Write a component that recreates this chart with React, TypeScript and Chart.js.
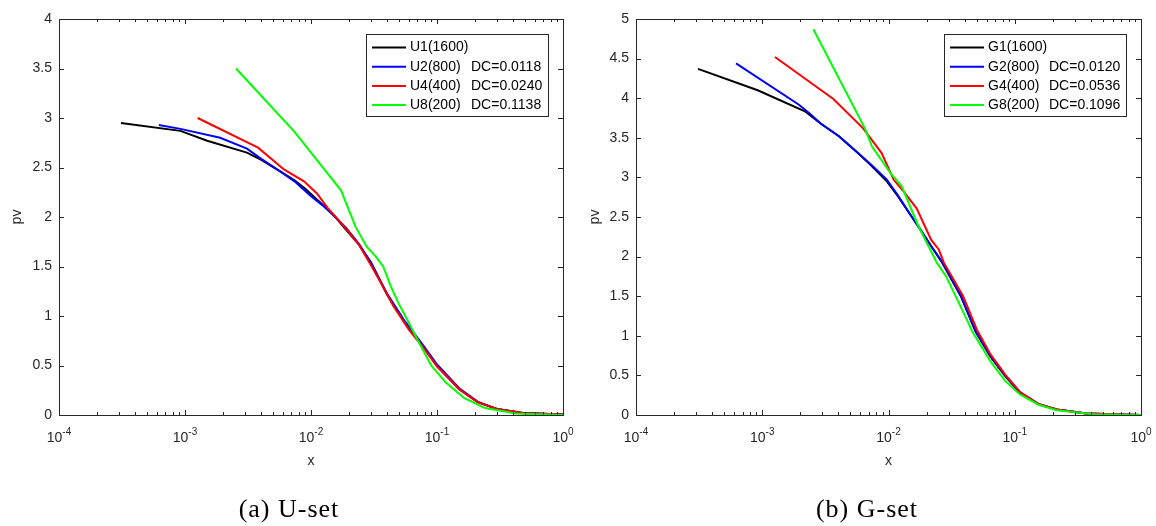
import React, { useEffect, useRef } from 'react';
import { Chart, registerables } from 'chart.js';

Chart.register(...registerables);

// ---------- (a) U-set ----------
const u1X = [3.1e-4, 9.2e-4, 1.5e-3, 3.1e-3, 4.0e-3, 5.7e-3, 7.4e-3, 9.1e-3, 0.012, 0.0156, 0.019, 0.024, 0.030, 0.040, 0.056, 0.079, 0.10, 0.15, 0.21, 0.30, 0.48, 1.0];
const u1Y = [2.95, 2.87, 2.77, 2.65, 2.58, 2.46, 2.37, 2.28, 2.14, 2.0, 1.87, 1.72, 1.54, 1.22, 0.93, 0.68, 0.50, 0.26, 0.13, 0.06, 0.02, 0.005];
const u2X = [6.2e-4, 9.2e-4, 1.9e-3, 3.1e-3, 4.0e-3, 5.7e-3, 7.4e-3, 0.010, 0.0123, 0.0156, 0.019, 0.024, 0.030, 0.040, 0.056, 0.079, 0.10, 0.15, 0.21, 0.30, 0.48, 1.0];
const u2Y = [2.93, 2.89, 2.80, 2.69, 2.59, 2.46, 2.36, 2.21, 2.12, 2.0, 1.89, 1.73, 1.53, 1.23, 0.94, 0.69, 0.51, 0.27, 0.135, 0.06, 0.02, 0.005];
const u4X = [1.26e-3, 3.8e-3, 6.1e-3, 8.8e-3, 0.0111, 0.0136, 0.0184, 0.024, 0.030, 0.036, 0.045, 0.06, 0.08, 0.10, 0.15, 0.21, 0.30, 0.48, 1.0];
const u4Y = [3.0, 2.70, 2.48, 2.36, 2.24, 2.09, 1.90, 1.72, 1.51, 1.33, 1.10, 0.86, 0.66, 0.49, 0.26, 0.13, 0.06, 0.02, 0.005];
const u8X = [2.54e-3, 7.4e-3, 0.0173, 0.0226, 0.0277, 0.0327, 0.0374, 0.043, 0.049, 0.056, 0.07, 0.09, 0.117, 0.165, 0.24, 0.42, 1.0];
const u8Y = [3.50, 2.86, 2.27, 1.90, 1.70, 1.60, 1.50, 1.30, 1.14, 1.0, 0.76, 0.50, 0.33, 0.17, 0.07, 0.015, 0.0];

// ---------- (b) G-set ----------
const g1X = [3.1e-4, 9.2e-4, 2.2e-3, 2.9e-3, 4.05e-3, 5.7e-3, 7.4e-3, 9.7e-3, 0.0119, 0.0146, 0.0179, 0.0218, 0.0267, 0.0374, 0.049, 0.064, 0.084, 0.11, 0.154, 0.215, 0.37, 1.0];
const g1Y = [4.37, 4.10, 3.83, 3.68, 3.52, 3.31, 3.14, 2.95, 2.76, 2.55, 2.34, 2.13, 1.92, 1.50, 1.05, 0.74, 0.49, 0.28, 0.134, 0.07, 0.02, 0.0];
const g2X = [6.2e-4, 1.94e-3, 2.4e-3, 2.9e-3, 4.05e-3, 5.7e-3, 7.4e-3, 9.7e-3, 0.0119, 0.0146, 0.0179, 0.0218, 0.0267, 0.0374, 0.049, 0.064, 0.084, 0.11, 0.154, 0.215, 0.37, 1.0];
const g2Y = [4.44, 3.92, 3.80, 3.68, 3.52, 3.31, 3.15, 2.97, 2.77, 2.55, 2.34, 2.13, 1.93, 1.51, 1.06, 0.75, 0.50, 0.29, 0.14, 0.07, 0.02, 0.0];
const g4X = [1.26e-3, 3.66e-3, 6.3e-3, 8.8e-3, 0.011, 0.0132, 0.0167, 0.0218, 0.025, 0.0275, 0.039, 0.05, 0.064, 0.084, 0.11, 0.154, 0.215, 0.37, 1.0];
const g4Y = [4.52, 3.99, 3.62, 3.31, 2.97, 2.82, 2.61, 2.21, 2.09, 1.92, 1.50, 1.08, 0.77, 0.51, 0.29, 0.14, 0.07, 0.02, 0.0];
const g8X = [2.54e-3, 6.5e-3, 7.4e-3, 0.0104, 0.0127, 0.0173, 0.0242, 0.0286, 0.035, 0.043, 0.0458, 0.0641, 0.0839, 0.11, 0.154, 0.215, 0.42, 1.0];
const g8Y = [4.87, 3.62, 3.39, 3.05, 2.89, 2.38, 1.92, 1.75, 1.46, 1.16, 1.06, 0.68, 0.43, 0.26, 0.13, 0.06, 0.01, 0.0];

const uNames = ['U1(1600)', 'U2(800)', 'U4(400)', 'U8(200)'];
const uDC = ['', 'DC=0.0118', 'DC=0.0240', 'DC=0.1138'];
const gNames = ['G1(1600)', 'G2(800)', 'G4(400)', 'G8(200)'];
const gDC = ['', 'DC=0.0120', 'DC=0.0536', 'DC=0.1096'];

const seriesColors = ['#000000', '#0000ff', '#ff0000', '#00ff00'];
const xTickExponents = [-4, -3, -2, -1, 0];
const uYMax = 4;
const gYMax = 5;
const yStep = 0.5;
const xTitle = 'x';
const yTitle = 'pv';

const SANS = '"Liberation Sans", Arial, Helvetica, sans-serif';
const SERIF = '"Liberation Serif", "Times New Roman", serif';
const AXIS_COLOR = '#262626';

const decorPlugin = {
  id: 'decor',
  afterDraw(chart: any, _args: any, opts: any) {
    const { ctx, chartArea, scales } = chart;
    const { left, right, top, bottom } = chartArea;
    const xs = scales.x;
    const ys = scales.y;
    ctx.save();
    ctx.strokeStyle = AXIS_COLOR;
    ctx.lineWidth = 1;
    // box
    ctx.strokeRect(left + 0.5, top + 0.5, right - left, bottom - top);
    // x ticks (major + minor), inward, bottom and top
    ctx.beginPath();
    for (const e of xTickExponents) {
      const base = Math.pow(10, e);
      const mults = e < 0 ? [1, 2, 3, 4, 5, 6, 7, 8, 9] : [1];
      for (const m of mults) {
        const v = base * m;
        const px = Math.round(xs.getPixelForValue(v)) + 0.5;
        const len = m === 1 ? 5 : 3;
        ctx.moveTo(px, bottom);
        ctx.lineTo(px, bottom - len);
        ctx.moveTo(px, top);
        ctx.lineTo(px, top + len);
      }
    }
    // y ticks both sides
    for (let v = 0; v <= opts.yMax + 1e-9; v += yStep) {
      const py = Math.round(ys.getPixelForValue(v)) + 0.5;
      ctx.moveTo(left, py);
      ctx.lineTo(left + 5, py);
      ctx.moveTo(right, py);
      ctx.lineTo(right - 5, py);
    }
    ctx.stroke();

    // x tick labels 10^e
    ctx.fillStyle = AXIS_COLOR;
    ctx.textBaseline = 'alphabetic';
    ctx.textAlign = 'left';
    for (const e of xTickExponents) {
      const px = xs.getPixelForValue(Math.pow(10, e));
      ctx.font = `14px ${SANS}`;
      const wBase = ctx.measureText('10').width;
      ctx.font = `10px ${SANS}`;
      const expStr = String(e);
      const wExp = ctx.measureText(expStr).width;
      const start = px - (wBase + wExp) / 2;
      ctx.font = `14px ${SANS}`;
      ctx.fillText('10', start, 442);
      ctx.font = `10px ${SANS}`;
      ctx.fillText(expStr, start + wBase, 435);
    }

    // axis titles
    ctx.font = `14px ${SANS}`;
    ctx.textAlign = 'center';
    ctx.textBaseline = 'middle';
    ctx.fillText(xTitle, (left + right) / 2, 461);
    ctx.save();
    ctx.translate(17.5, (top + bottom) / 2);
    ctx.rotate(-Math.PI / 2);
    ctx.fillText(yTitle, 0, 0);
    ctx.restore();

    // legend
    const lx = 366, ly = 34, lw = 182, lh = 82;
    ctx.fillStyle = '#ffffff';
    ctx.fillRect(lx, ly, lw, lh);
    ctx.strokeStyle = AXIS_COLOR;
    ctx.lineWidth = 1;
    ctx.strokeRect(lx + 0.5, ly + 0.5, lw, lh);
    ctx.textAlign = 'left';
    ctx.textBaseline = 'middle';
    ctx.font = `14px ${SANS}`;
    opts.names.forEach((name: string, i: number) => {
      const ry = ly + 13.5 + i * 19.2;
      ctx.strokeStyle = seriesColors[i];
      ctx.lineWidth = 2;
      ctx.beginPath();
      ctx.moveTo(lx + 6, ry);
      ctx.lineTo(lx + 40, ry);
      ctx.stroke();
      ctx.fillStyle = '#000000';
      ctx.fillText(name, lx + 44, ry);
      if (opts.dcs[i]) ctx.fillText(opts.dcs[i], lx + 105, ry);
    });

    // caption
    ctx.fillStyle = '#000000';
    ctx.font = `26px ${SERIF}`;
    try {
      (ctx as any).letterSpacing = '1px';
    } catch (err) {
      /* ignore */
    }
    ctx.textAlign = 'center';
    ctx.textBaseline = 'alphabetic';
    ctx.fillText(opts.caption, 289, 517);
    ctx.restore();
  },
};

type PanelProps = {
  xs: number[][];
  ys: number[][];
  names: string[];
  dcs: string[];
  yMax: number;
  caption: string;
  yAxisWidth: number;
};

function Panel({ xs, ys, names, dcs, yMax, caption, yAxisWidth }: PanelProps) {
  const ref = useRef<HTMLCanvasElement>(null);
  useEffect(() => {
    if (!ref.current) return;
    const datasets = xs.map((xArr, i) => ({
      label: names[i],
      data: xArr.map((x, j) => ({ x, y: ys[i][j] })),
      borderColor: seriesColors[i],
      backgroundColor: seriesColors[i],
      borderWidth: 2,
      pointRadius: 0,
      pointHoverRadius: 0,
      tension: 0,
      fill: false,
      order: xs.length - 1 - i,
    }));
    const chart = new Chart(ref.current, {
      type: 'line',
      data: { datasets } as any,
      options: {
        animation: false,
        responsive: false,
        devicePixelRatio: 1,
        layout: { padding: { top: 19, right: 15, left: 0, bottom: 0 } },
        plugins: {
          legend: { display: false },
          tooltip: { enabled: false },
          decor: { names, dcs, caption, yMax },
        } as any,
        scales: {
          x: {
            type: 'logarithmic',
            min: 1e-4,
            max: 1,
            ticks: { display: false },
            grid: { display: false, drawTicks: false },
            border: { display: false },
            afterFit: (s: any) => {
              s.height = 111;
            },
          },
          y: {
            type: 'linear',
            min: 0,
            max: yMax,
            ticks: {
              stepSize: yStep,
              padding: 7,
              color: AXIS_COLOR,
              font: { family: SANS, size: 14 },
              callback: (v: any) => String(Number(Number(v).toFixed(2))),
            },
            grid: { display: false, drawTicks: false },
            border: { display: false },
            afterFit: (s: any) => {
              s.width = yAxisWidth;
            },
          },
        },
      } as any,
      plugins: [decorPlugin],
    });
    return () => chart.destroy();
  }, []);
  return <canvas ref={ref} width={578} height={526} style={{ display: 'block', width: 578, height: 526 }} />;
}

export default function App() {
  return (
    <div style={{ position: 'absolute', left: 0, top: 0, width: 1156, height: 526, display: 'flex', background: '#ffffff' }}>
      <Panel
        xs={[u1X, u2X, u4X, u8X]}
        ys={[u1Y, u2Y, u4Y, u8Y]}
        names={uNames}
        dcs={uDC}
        yMax={uYMax}
        caption="(a) U-set"
        yAxisWidth={59}
      />
      <Panel
        xs={[g1X, g2X, g4X, g8X]}
        ys={[g1Y, g2Y, g4Y, g8Y]}
        names={gNames}
        dcs={gDC}
        yMax={gYMax}
        caption="(b) G-set"
        yAxisWidth={58}
      />
    </div>
  );
}
